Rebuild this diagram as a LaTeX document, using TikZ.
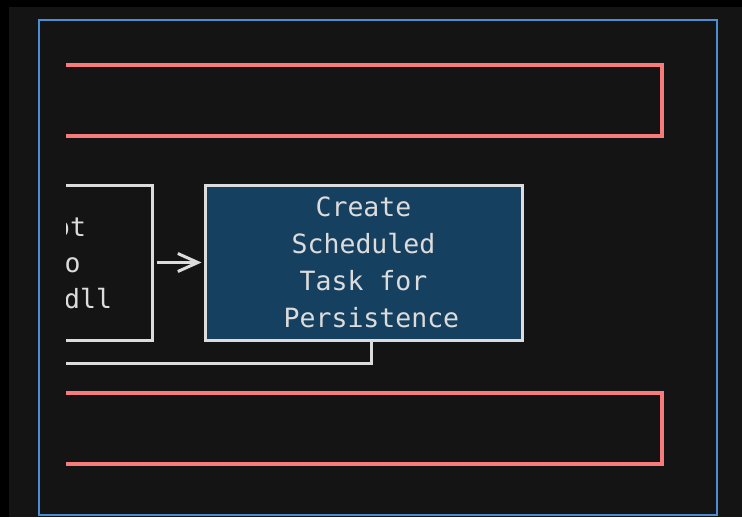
\documentclass[tikz,border=0pt]{standalone}
\usepackage{fontspec}
\setmonofont{DejaVu Sans Mono}
\usetikzlibrary{arrows.meta}
\definecolor{canvas}{HTML}{141414}
\definecolor{frameblue}{HTML}{4A8FD6}
\definecolor{bandred}{HTML}{F77B7B}
\definecolor{taskfill}{HTML}{16405F}
\definecolor{inkgrey}{HTML}{DCDCDC}
\begin{document}
\begin{tikzpicture}[x=1pt,y=-1pt,
frame/.style ={rectangle, draw=frameblue, line width=2.4pt,
  minimum width=678pt, minimum height=495pt
},
band/.style ={rectangle, draw=bandred, line width=3.2pt,
  minimum width=682pt, minimum height=71pt
},
stepbox/.style ={rectangle, draw=inkgrey, line width=3pt,
  minimum height=155pt, text=inkgrey,
  font=\ttfamily\fontsize{26.5}{37}\selectfont, align=center
},
label/.style ={inner sep=0pt, text=inkgrey,
  font=\ttfamily\fontsize{26.5}{37}\selectfont
},
link/.style ={draw=inkgrey, line width=3pt}]
\fill[black] (0,0) rectangle (742,517);
\fill[canvas] (9,7) rectangle (742,517);
\node (frame) at (378,267.5) [frame] {};
\begin{scope}
\clip (66,0) rectangle (742,517);
\node (topband) at (321,100.5) [band] {};
\node (lowband) at (321,428.5) [band] {};
\node (leftbox) at (66,262.5) [stepbox, minimum width=172pt] {};
\node (line1) at (54,236) [label, anchor=base west] {ot};
\node (line2) at (64.5,272) [label, anchor=base west] {o};
\node (line3) at (64,308) [label, anchor=base west] {dll};
\node (bluebox) at (363.5,262.5) [stepbox, fill=taskfill, minimum width=317pt]
  {Create\\Scheduled\\Task for\\\hspace*{0.6em}Persistence};
\coordinate (loopend) at (40,363);
\draw[link, -{Straight Barb[length=20pt,width=18pt,line width=3pt]}]
  ([xshift=3pt]leftbox.east) -- ([xshift=-2pt]bluebox.west);
\draw[link] ([xshift=7.5pt]bluebox.south) |- (loopend);
\end{scope}
\end{tikzpicture}
\end{document}
